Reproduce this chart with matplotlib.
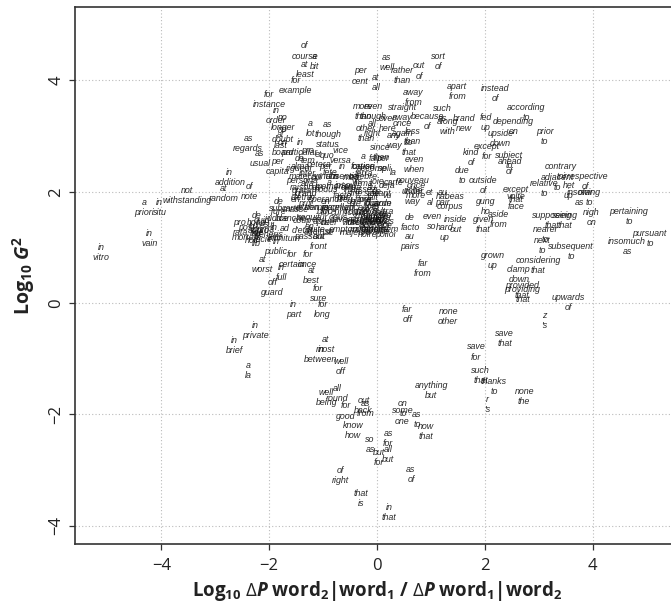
import matplotlib
matplotlib.use("Agg")
import matplotlib.pyplot as plt

plt.rcParams['mathtext.fontset'] = 'custom'
plt.rcParams['mathtext.rm'] = 'Open Sans'
plt.rcParams['mathtext.bf'] = 'Open Sans:bold'
plt.rcParams['mathtext.it'] = 'Open Sans:italic'
plt.rcParams['mathtext.bfit'] = 'Open Sans:italic:bold'

# bigrams: first word, second word, log10 dP ratio, log10 G2
first_words = [
    "of", "a", "at", "for", "for", "in", "no", "a", "as", "as",
    "per", "at", "as", "rather", "out", "sort", "away", "apart", "instead", "according",
    "more", "even", "straight", "such", "because", "along", "brand", "fed", "depending", "upside",
    "prior", "once", "other", "all", "over", "less", "since", "any", "so", "even",
    "kind", "except", "subject", "ahead", "due", "outside", "contrary", "relative", "adjacent", "irrespective",
    "het", "insofar", "owing", "nigh", "pertaining", "pursuant", "insomuch", "supposing", "seeing", "nearer",
    "next", "subsequent", "considering", "grown", "clamp", "provided", "providing", "upwards", "z", "save",
    "save", "such", "thanks", "r", "none", "anything", "far", "none", "far", "de",
    "au", "even", "hard", "inside", "given", "gung", "volte", "except", "aside", "et",
    "au", "habeas", "vice", "status", "on", "as", "per", "in", "at", "not",
    "a", "in", "in", "in", "of", "at", "off", "in", "for", "for",
    "at", "for", "for", "in", "in", "in", "a", "at", "in", "well",
    "well", "all", "for", "out", "as", "know", "on", "some", "as", "now",
    "so", "as", "all", "but", "as", "of", "that", "in", "in", "out",
    "up", "coup", "aide", "de", "sub", "en", "carte", "post", "bona", "prima",
    "ad", "sui", "pro", "de", "quid", "in", "ad", "ad", "et", "alma",
    "inter", "persona", "raison", "modus", "ipso", "cul", "tete", "mea", "terra", "cause",
    "fait", "per", "la", "deja", "joie", "laissez", "avant", "nouveau", "once", "under",
    "sine", "par", "en", "non", "magnum", "curriculum", "in", "in", "ultra", "pro",
    "mutatis", "ad", "caveat", "inter", "en", "de", "sine", "vis", "per", "in",
    "in", "in", "grand", "fin", "de", "au", "tour", "force", "bete", "hoi",
    "en", "in", "a", "no", "at", "in", "pro", "de", "a", "sotto",
    "vox", "en", "hors", "nom",
]
second_words = [
    "course", "bit", "least", "example", "instance", "order", "longer", "lot", "though", "regards",
    "cent", "all", "well", "than", "of", "of", "from", "from", "of", "to",
    "than", "though", "away", "as", "of", "with", "new", "up", "on", "down",
    "to", "again", "than", "right", "here", "than", "then", "way", "that", "when",
    "of", "for", "to", "of", "to", "of", "to", "to", "to", "of",
    "up", "as", "to", "on", "to", "to", "as", "that", "that", "to",
    "to", "to", "that", "up", "down", "that", "that", "of", "'s", "that",
    "for", "that", "to", "'s", "the", "but", "off", "other", "from", "facto",
    "pairs", "so", "up", "out", "that", "ho", "face", "that", "from", "al",
    "pair", "corpus", "versa", "quo", "board", "usual", "capita", "addition", "random", "withstanding",
    "priori", "situ", "vain", "vitro", "note", "worst", "guard", "full", "certain", "once",
    "best", "sure", "long", "part", "private", "brief", "la", "most", "between", "off",
    "being", "round", "good", "back", "from", "how", "to", "one", "to", "that",
    "as", "for", "but", "for", "of", "right", "is", "that", "public", "front",
    "against", "d'etat", "memoire", "jure", "judice", "masse", "blanche", "mortem", "fide", "facie",
    "hoc", "generis", "rata", "luxe", "pro", "vivo", "lib", "infinitum", "cetera", "mater",
    "alia", "grata", "d'etre", "operandi", "facto", "de", "a", "culpa", "firma", "celebre",
    "accompli", "se", "carte", "vu", "de", "faire", "garde", "riche", "more", "way",
    "die", "excellence", "bloc", "sequitur", "opus", "vitae", "toto", "camera", "vires", "forma",
    "mutandis", "hominem", "emptor", "se", "suite", "novo", "qua", "a", "annum", "absentia",
    "memoriam", "extremis", "prix", "de", "trop", "fait", "de", "majeure", "noire", "polloi",
    "passant", "lieu", "fortiori", "doubt", "last", "particular", "tem", "rigueur", "propos", "voce",
    "pop", "famille", "d'oeuvre", "de",
]
dp_ratio = [
    -1.34, -1.16, -1.34, -1.51, -2.00, -1.87, -1.74, -1.23, -0.91, -2.39,
    -0.31, -0.02, 0.18, 0.47, 0.78, 1.14, 0.67, 1.49, 2.19, 2.77,
    -0.26, -0.07, 0.47, 1.22, 0.93, 1.31, 1.62, 2.01, 2.53, 2.29,
    3.11, 0.47, -0.21, -0.09, 0.19, 0.66, 0.07, 0.32, 0.59, 0.69,
    1.75, 2.04, 2.45, 2.46, 1.58, 1.97, 3.40, 3.10, 3.34, 3.87,
    3.56, 3.76, 3.94, 3.97, 4.67, 5.06, 4.64, 3.24, 3.49, 3.12,
    3.07, 3.60, 2.99, 2.15, 2.63, 2.69, 2.70, 3.54, 3.10, 2.37,
    1.84, 1.92, 2.17, 2.05, 2.73, 1.01, 0.56, 1.32, 0.85, 0.61,
    0.61, 1.02, 1.26, 1.46, 1.97, 2.01, 2.58, 2.57, 2.25, 0.98,
    1.22, 1.35, -0.67, -0.92, -1.75, -2.17, -1.85, -2.73, -2.84, -3.52,
    -4.32, -4.03, -4.22, -5.12, -2.36, -2.13, -1.94, -1.77, -1.58, -1.29,
    -1.22, -1.09, -1.01, -1.55, -2.26, -2.64, -2.39, -0.96, -1.04, -0.67,
    -0.94, -0.74, -0.58, -0.25, -0.21, -0.44, 0.48, 0.47, 0.74, 0.90,
    -0.13, 0.21, 0.21, 0.03, 0.63, -0.67, -0.30, 0.23, -1.87, -1.08,
    -1.10, -1.39, -0.09, -1.83, -1.87, -1.51, -1.59, -2.42, -2.23, -2.11,
    -2.31, -1.99, -2.54, -2.23, -2.13, -1.91, -2.23, -1.71, -1.08, -1.43,
    -1.28, -1.39, -1.39, -0.96, -0.64, -1.12, -0.88, -0.48, -0.25, -0.25,
    -0.05, 0.11, 0.31, 0.19, -0.01, -0.25, 0.07, 0.67, 0.72, 0.66,
    -0.40, -0.64, -0.96, -1.20, -0.72, -0.48, -0.17, -0.01, 0.15, -0.29,
    -0.17, 0.07, -0.64, -0.88, -1.12, -0.01, -0.09, -0.37, -0.96, -0.64,
    -0.76, -1.20, -1.32, -0.96, -0.48, -0.09, -0.21, -0.40, -0.17, 0.15,
    -1.25, -0.56, -0.25, -1.75, -1.79, -1.43, -1.28, -1.43, -0.05, 0.10,
    -0.20, 0.00, -0.10, 0.12,
]
g2 = [
    4.53, 4.34, 4.20, 3.91, 3.66, 3.37, 3.24, 3.14, 3.12, 2.87,
    4.08, 3.96, 4.33, 4.09, 4.17, 4.34, 3.70, 3.80, 3.77, 3.42,
    3.45, 3.45, 3.42, 3.41, 3.26, 3.17, 3.23, 3.24, 3.17, 2.95,
    3.00, 3.13, 3.05, 3.13, 3.23, 2.99, 2.70, 2.92, 2.80, 2.49,
    2.61, 2.73, 2.57, 2.46, 2.30, 2.12, 2.37, 2.06, 2.16, 2.18,
    2.02, 1.90, 1.89, 1.53, 1.55, 1.16, 1.02, 1.49, 1.49, 1.23,
    1.03, 0.93, 0.67, 0.76, 0.52, 0.23, 0.16, 0.01, -0.32, -0.64,
    -0.88, -1.31, -1.50, -1.82, -1.68, -1.58, -0.20, -0.24, 0.62, 1.45,
    1.11, 1.46, 1.27, 1.41, 1.41, 1.74, 1.83, 1.95, 1.51, 1.90,
    1.90, 1.83, 2.65, 2.75, 2.79, 2.60, 2.46, 2.26, 1.97, 1.93,
    1.72, 1.71, 1.16, 0.91, 2.00, 0.69, 0.28, 0.55, 0.78, 0.78,
    0.50, 0.18, -0.11, -0.12, -0.50, -0.76, -1.21, -0.75, -0.93, -1.14,
    -1.70, -1.63, -1.94, -1.84, -1.89, -2.29, -1.89, -2.03, -2.10, -2.30,
    -2.55, -2.43, -2.72, -2.77, -3.08, -3.10, -3.52, -3.76, 1.01, 1.11,
    1.37, 1.40, 1.42, 1.74, 1.61, 1.77, 1.61, 1.26, 1.35, 1.23,
    1.21, 1.32, 1.35, 1.49, 1.39, 1.26, 1.16, 1.25, 2.58, 2.37,
    2.23, 2.12, 1.98, 1.95, 2.02, 2.16, 2.26, 2.16, 2.23, 2.37,
    2.51, 2.51, 2.26, 2.02, 2.09, 1.95, 1.88, 2.12, 2.03, 1.91,
    1.88, 1.81, 1.74, 1.63, 1.63, 1.53, 1.74, 1.63, 1.56, 1.56,
    1.42, 1.42, 1.42, 1.35, 1.42, 1.53, 1.88, 2.09, 2.37, 2.37,
    2.19, 1.81, 1.88, 1.53, 1.74, 1.98, 1.77, 1.35, 1.32, 1.32,
    1.28, 1.95, 2.54, 3.03, 2.93, 2.79, 2.65, 2.51, 1.58, 1.48,
    1.48, 1.38, 1.65, 1.70,
]
ticks = [-4, -2, 0, 2, 4]

fig = plt.figure(figsize=(6.71, 6.10), dpi=100)
ax = fig.add_axes([0.1118, 0.1082, 0.9001, 0.8803])

for w1, w2, x, y in zip(first_words, second_words, dp_ratio, g2):
    ax.text(x, y, w1 + "\n" + w2, ha='center', va='center',
            family='Liberation Sans', fontstyle='italic', fontsize=6.4,
            color='#111111', alpha=0.9, linespacing=1.15)

ax.set_xlim(-5.6, 5.6)
ax.set_ylim(-4.33, 5.32)
ax.set_xticks(ticks)
ax.set_yticks(ticks)
ax.grid(True, linestyle=(0, (1, 2)), color='#bbbbbb', linewidth=0.8)
ax.set_axisbelow(True)
for s in ax.spines.values():
    s.set_color('#333333')
    s.set_linewidth(1.2)
ax.tick_params(length=4, width=0.9, color='#333333', labelsize=12,
               labelcolor='#222222')
ax.tick_params(axis='x', pad=6)
for lab in ax.get_xticklabels() + ax.get_yticklabels():
    lab.set_family('Open Sans')
plt.setp(ax.get_yticklabels(), rotation=90, va='center')

ax.set_xlabel(r'Log$_\mathbf{10}$ $\Delta\mathbfit{P}$ word$_\mathbf{2}$|word$_\mathbf{1}$ / '
              r'$\Delta\mathbfit{P}$ word$_\mathbf{1}$|word$_\mathbf{2}$',
              family='Open Sans', fontweight='bold', fontsize=13.5,
              color='#222222', labelpad=4)
ax.set_ylabel(r'Log$_\mathbf{10}$ $\mathbfit{G}^\mathbf{2}$', family='Open Sans',
              fontweight='bold', fontsize=14, color='#222222', labelpad=8)

fig.savefig("out.png", dpi=100)
